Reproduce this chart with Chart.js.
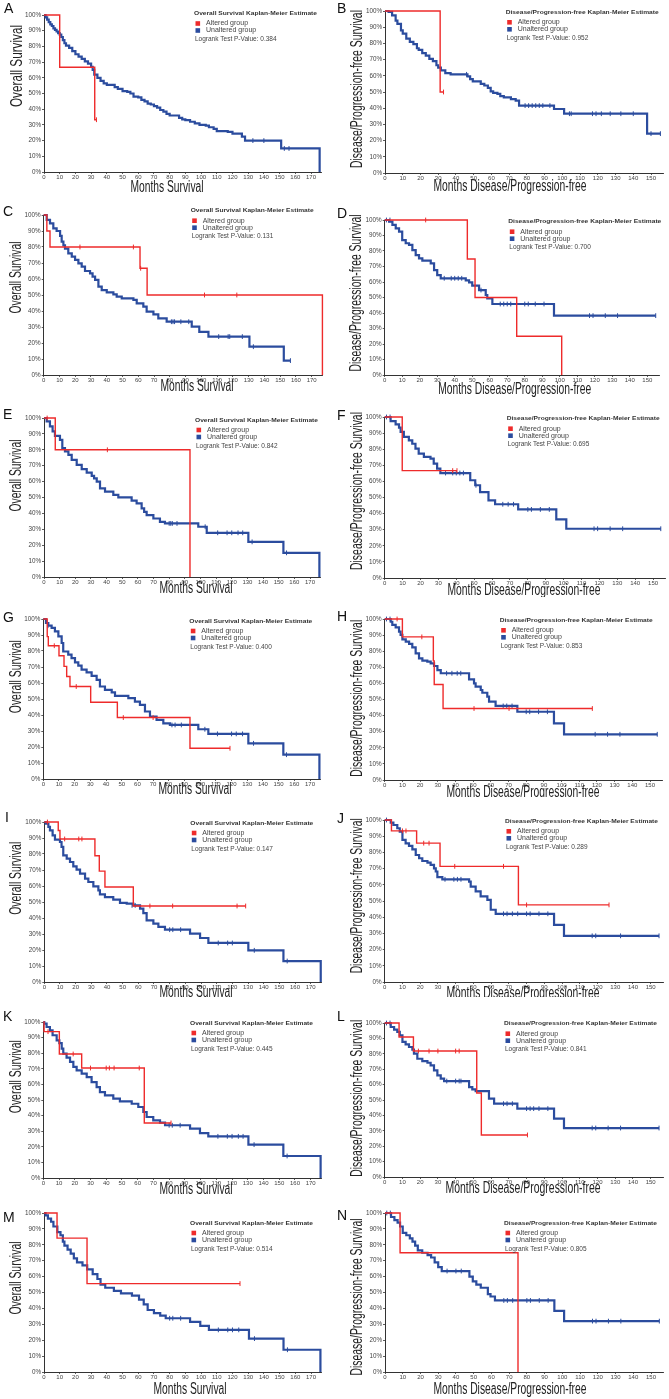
<!DOCTYPE html>
<html>
<head>
<meta charset="utf-8">
<script src="https://cdn.jsdelivr.net/npm/chart.js@4.4.1/dist/chart.umd.min.js"></script>
<style>
  html, body { margin: 0; padding: 0; background: #fff; }
  #page { position: relative; width: 669px; height: 1399px; overflow: hidden; }
  #page canvas { position: absolute; }
</style>
</head>
<body>
<div id="page"></div>
<script>
// ---- data ----
const osTicks = [0, 10, 20, 30, 40, 50, 60, 70, 80, 90, 100, 110, 120, 130, 140, 150, 160, 170];
const dfsTicks = [0, 10, 20, 30, 40, 50, 60, 70, 80, 90, 100, 110, 120, 130, 140, 150];
const yTicks = [0, 10, 20, 30, 40, 50, 60, 70, 80, 90, 100];
const panelIds = ["A", "B", "C", "D", "E", "F", "G", "H", "I", "J", "K", "L", "M", "N"];
const pValues = ["0.384", "0.952", "0.131", "0.700", "0.842", "0.695", "0.400", "0.853", "0.147", "0.289", "0.445", "0.841", "0.514", "0.805"];

// A - overall survival
const aRed = [[0,100],[10,66.7],[32.3,33.3],[33.4,33.3]];
const aRedCens = [[33.4,33.3]];
const aBlue = [[0,100],[1,98.5],[2,97],[3,95.5],[4,94],[5,93],[6,91.5],[7,90.5],[8,89.5],[9,88.5],[10,87.5],[11,86],[12,84],[13,82],[14,80.5],[16,79],[18,77],[20,75],[22,73.5],[24,72],[26,70.5],[28,69],[30,67],[31,65],[32,62],[34,60],[36,58],[38,56.5],[40,55.5],[45,54],[47,53],[50,51.5],[53,51],[55,50],[57,48],[60,47.5],[62,46],[64,45],[66,43.5],[68,43],[70,42],[72,41],[74,39.5],[76,38.5],[78,37],[80,36],[86,34.5],[88,33.5],[90,33],[93,32],[96,31],[99,30],[103,29.5],[105,28.5],[108,27.5],[110,26],[117,25.5],[120,24.5],[126,22.5],[128,20],[151,15],[175.5,0]];
const aBlueCens = [[133,20],[140,20],[153,15],[156,15]];

// B - disease/progression-free
const bRed = [[0,100],[31.1,50],[33,50]];
const bRedCens = [[33,50]];
const bBlue = [[0,100],[2,99.5],[4,97.3],[6,94],[7,92],[9,88],[10,86],[12,83],[14,81],[16,79.5],[18,77],[19,76],[21,74],[23,72.5],[25,70.5],[27,69],[29,66.5],[30,65],[31.5,63.4],[34,61.7],[37,60.9],[46.5,59.7],[48,58],[49.5,56.6],[54,55],[56,54],[58,52.5],[59.6,50.4],[61,49.5],[63.4,48.8],[65,47.5],[67,46.7],[71,45.6],[73.7,44.7],[75.6,41.6],[95.3,39.5],[101,36.6],[147.8,24.3],[155.3,24.3]];
const bBlueCens = [[46,60.9],[79,41.6],[81,41.6],[83,41.6],[85,41.6],[87,41.6],[89,41.6],[93,41.6],[104,36.6],[105,36.6],[117,36.6],[119,36.6],[122,36.6],[127,36.6],[133,36.6],[140,36.6],[150,24.3],[155.3,24.3]];

// C
const cRed = [[0,100],[2,90],[4,80],[61.1,66.7],[65.6,50],[176.8,0]];
const cRedCens = [[23,80],[56.9,80],[61.5,66.7],[102,50],[122.5,50]];
const cBlue = [[0,100],[1.9,96.9],[4,94.8],[6.1,91.7],[8.2,90],[10.4,87],[11.4,83.3],[12.5,81],[13.5,79],[15.6,76],[17.8,74],[19.9,71.9],[22,69.8],[24.1,67.7],[26.2,65],[29.4,63.5],[31,61.5],[32.6,59.4],[34.7,55.2],[36.8,53.1],[40,51.7],[44.2,50.4],[46.3,49],[49.5,47.9],[56.9,46.9],[59,44.8],[63.2,42.7],[65.3,39.6],[69.6,37.9],[72.7,35.4],[78,33.3],[93.9,30.2],[98.7,27],[104.5,24],[130.5,17.7],[152.3,9],[156.5,9]];
const cBlueCens = [[81,33.3],[82,33.3],[83,33.3],[87,33.3],[92,33.3],[111,24],[117,24],[118,24],[126,24],[133,17.7],[156.5,9]];

// D
const dRed = [[0,100],[47.2,74.8],[51.6,50],[75.4,25],[101.1,0]];
const dRedCens = [[23.4,100]];
const dBlue = [[0,100],[2.5,99],[4.4,96.8],[6.3,94.6],[8.2,92.5],[10,87],[12,85],[13.9,84],[15.8,80.6],[17.7,77.4],[19.6,75.3],[21.5,73.8],[26.3,72],[28.2,67.7],[30,64.5],[32,62.4],[46.3,61],[48.2,59.8],[50,57.6],[53.9,54.8],[57.7,51.6],[58.6,49.5],[61.5,45.8],[96.7,38.3],[154.8,38.3]];
const dBlueCens = [[1,100],[3,100],[34,62.4],[38,62.4],[40,62.4],[42,62.4],[44,62.4],[55,54.8],[66,45.8],[68,45.8],[70,45.8],[72,45.8],[80,45.8],[82,45.8],[86,45.8],[91,45.8],[117,38.3],[119,38.3],[126,38.3],[133,38.3],[154.8,38.3]];

// E
const eRed = [[0,100],[7.2,80],[93.3,0]];
const eRedCens = [[2,100],[40.5,80]];
const eBlue = [[0,100],[1.7,97.9],[3.8,94.7],[5.5,91.6],[7,88.8],[10.2,86.3],[11.7,81],[13.4,79],[15.6,76.8],[17.7,73.7],[20.9,70.5],[24.1,67.8],[27.3,65.7],[30.5,63.6],[32,62],[33.7,60],[35.8,55.8],[39,53.7],[44.3,51.6],[47.5,50.1],[56,48],[59.2,46.3],[62.4,43.2],[64,41],[65.6,38.9],[69.9,36.8],[74.1,34.7],[77.3,33.7],[98.6,31.6],[104,27.8],[130.6,22.1],[153,15.2],[176,0]];
const eBlueCens = [[80,33.7],[81,33.7],[82,33.7],[85,33.7],[103,31.6],[111,27.8],[117,27.8],[120,27.8],[124,27.8],[127,27.8],[133,22.1],[155,15.2]];

// F
const fRed = [[0,100],[9.8,66.7],[40.4,66.7]];
const fRedCens = [[38,66.7],[40.4,66.7]];
const fBlue = [[0,100],[3.3,97.5],[6.1,95.4],[8,93.4],[8.9,90.7],[10.7,87.6],[13.5,85.5],[15.4,83.4],[17.2,80.3],[19,77.2],[21.9,75.2],[25.6,74.1],[27.4,71],[29.3,67.9],[31.1,65.2],[47.8,60.7],[50.6,57.6],[53.3,53.4],[58,48.2],[61.7,45.8],[74.6,42.6],[95.9,36.4],[101.5,30.6],[154.3,30.6]];
const fBlueCens = [[1,100],[3,100],[34,65.2],[38,65.2],[40,65.2],[42,65.2],[44,65.2],[51,57.6],[66,45.8],[69,45.8],[72,45.8],[80,42.6],[82,42.6],[87,42.6],[92,42.6],[117,30.6],[119,30.6],[126,30.6],[133,30.6],[154.3,30.6]];

// G
const gRed = [[0,100],[2.5,89],[3.2,83.3],[10,77],[13.2,70.4],[14.9,64.1],[17,57.8],[30.2,48],[47.2,38.4],[93.5,19.2],[119,19.2]];
const gRedCens = [[7,83.3],[21,57.8],[51,38.4],[70,38.4],[119,19.2]];
const gBlue = [[0,100],[1.7,97.5],[3.2,95.8],[5.3,94.4],[7.4,92.3],[9.6,89.1],[11.7,85],[12.7,79.7],[15.9,77.7],[18,75.6],[20.2,72.9],[22.3,70.8],[24.4,68.3],[27.6,66.6],[30.8,64.5],[34,62],[36.1,57.8],[39.3,55.7],[43.6,54.1],[45.7,52],[54.2,50.5],[58.4,48.4],[61.6,46.3],[64.8,42.2],[68,39],[72.2,36.9],[76.5,34.8],[80.7,33.8],[98.8,31.1],[105.2,28.2],[130.7,22.3],[153,15.2],[176,0]];
const gBlueCens = [[3,95.8],[82,33.8],[84,33.8],[88,33.8],[103,31.1],[111,28.2],[120,28.2],[123,28.2],[127,28.2],[134,22.3],[155,15.2]];

// H
const hRed = [[0,100],[10,88.9],[27.5,74],[28,59.3],[33,44.4],[117.4,44.4]];
const hRedCens = [[7,100],[21,88.9],[50.5,44.4],[70.3,44.4],[117.4,44.4]];
const hBlue = [[0,100],[3.4,98.3],[4.3,96.3],[6.2,94.8],[8.1,92.1],[9,90.1],[10,87.4],[11.9,85.9],[13.8,84.5],[15.6,82.4],[17.5,78.7],[19.4,75.6],[21.3,74.1],[24.1,73.5],[26,72.5],[27.9,70.8],[29.8,68.3],[31.7,66.3],[47.7,62.5],[50.5,60],[51.4,58],[54.3,55.9],[55.2,54.2],[58,51.8],[59,48.7],[62.7,46],[75,42.4],[95.7,35.2],[101.4,28.4],[154.1,28.4]];
const hBlueCens = [[1,100],[3,100],[35,66.3],[38,66.3],[41,66.3],[43,66.3],[67,46],[69,46],[72,46],[80,42.4],[82,42.4],[87,42.4],[92,42.4],[119,28.4],[126,28.4],[133,28.4],[154.1,28.4]];

// I
const iRed = [[0,100],[8.9,94.7],[10,89.4],[32.3,78.9],[35.1,69.3],[38.7,59.4],[56.8,47.5],[128.5,47.5]];
const iRedCens = [[2,100],[13,89.4],[22,89.4],[24,89.4],[67.4,47.5],[81.9,47.5],[123,47.5],[128.5,47.5]];
const iBlue = [[0,100],[0.9,98.9],[2.6,96.9],[3.6,94.8],[5.3,91.7],[6.8,89],[10,87.5],[11,84.4],[12.1,79.2],[14.3,77.1],[16.4,75],[18.5,72.3],[20.6,70.2],[22.8,67.7],[26,64.6],[28.1,62.5],[31.3,59.8],[34.5,57.3],[35.5,54.8],[38.7,53.1],[44,51.5],[48.3,49.4],[52.6,49],[56.8,47.9],[61.1,45.8],[63.2,43.1],[65.3,38.5],[69.6,36.5],[72.8,34.4],[77,32.7],[93,30.2],[99.4,27.5],[104.7,24.4],[130.2,19.8],[152.6,13.1],[176.4,0]];
const iBlueCens = [[56,47.9],[58,47.9],[80,32.7],[82,32.7],[87,32.7],[111,24.4],[117,24.4],[120,24.4],[134,19.8],[155,13.1]];

// J
const jRed = [[0,100],[3.8,93.3],[18,85.7],[31.2,71.4],[75.4,47.6],[126.5,47.6]];
const jRedCens = [[10,93.3],[12,93.3],[22,85.7],[25,85.7],[39.5,71.4],[67,71.4],[80,47.6],[126.5,47.6]];
const jBlue = [[0,100],[3.4,98.4],[4.9,96.9],[7.1,94.9],[8.5,92.8],[10,87.7],[11.8,85.6],[13.7,84],[15.6,81.9],[17.5,78.4],[19.4,76.4],[21.2,74.7],[24.1,73.7],[25.9,72.3],[27.8,70.2],[28.8,68.2],[29.7,64.7],[32.5,63.4],[47.6,62],[48.5,58.9],[51.3,55.9],[54.1,52.8],[57.9,50.7],[59.8,44.6],[62.6,42.1],[95.5,35.3],[101.1,28.5],[154.7,28.5]];
const jBlueCens = [[1,100],[34,63.4],[39,63.4],[41,63.4],[43,63.4],[67,42.1],[69,42.1],[72,42.1],[75,42.1],[80,42.1],[82,42.1],[87,42.1],[92,42.1],[117,28.5],[119,28.5],[133,28.5],[154.7,28.5]];

// K
const kRed = [[0,100],[0.5,93.8],[10.2,79.5],[24.4,70.5],[64.2,35.3],[81.2,35.3]];
const kRedCens = [[3,93.8],[19,79.5],[30,70.5],[40,70.5],[42,70.5],[45,70.5],[61,70.5],[81.2,35.3]];
const kBlue = [[0,100],[0.6,98.9],[2.1,96.8],[4.2,94.7],[5.9,91.5],[8.5,88.2],[10.2,86.5],[11.7,82.9],[12.7,79.7],[14.8,77.1],[17,74.4],[19.1,71.2],[21.2,69],[24.4,66.9],[27.6,64.7],[30.7,61.5],[33.9,58.3],[36,55.1],[39.2,53],[44.5,50.9],[48.7,49.1],[56.2,47.6],[60.4,45.5],[63.6,42.3],[65.7,39.1],[69.9,37],[74.2,35.5],[77.4,33.8],[93.3,31.6],[99.6,28.8],[104.9,26.7],[130.4,21.4],[152.6,14.1],[176.3,0]];
const kBlueCens = [[80,33.8],[82,33.8],[87,33.8],[111,26.7],[117,26.7],[120,26.7],[124,26.7],[127,26.7],[134,21.4],[155,14.1]];

// L
const lRed = [[0,100],[8.1,90.9],[16.2,81.8],[51.9,54.5],[54.5,27.3],[80.5,27.3]];
const lRedCens = [[19,81.8],[25,81.8],[30,81.8],[40,81.8],[42,81.8],[80.5,27.3]];
const lBlue = [[0,100],[3.4,97.4],[5.3,95.7],[7.1,94.2],[8.5,92],[10,87.7],[11.8,86.1],[13.7,84.4],[15.6,82.7],[16.5,80.1],[18.4,76.8],[21.2,75.3],[24.1,74.2],[25.9,72.5],[27.8,69.3],[29.7,66],[31.6,63.9],[33.5,62.3],[47.6,58.4],[49.4,56.9],[51.3,55.8],[58.8,50.9],[61.7,47.6],[74.8,44.4],[95.5,37.9],[101.1,31.8],[154.7,31.8]];
const lBlueCens = [[1,100],[3,100],[35,62.3],[40,62.3],[42,62.3],[43,62.3],[67,47.6],[69,47.6],[72,47.6],[80,44.4],[82,44.4],[84,44.4],[87,44.4],[92,44.4],[117,31.8],[119,31.8],[126,31.8],[133,31.8],[154.7,31.8]];

// M
const mRed = [[0,100],[8.3,84.2],[27.4,55.6],[124.8,55.6]];
const mRedCens = [[124.8,55.6]];
const mBlue = [[0,100],[1,98.5],[2.5,96.5],[4.5,94.5],[6,91.5],[8.5,88],[10.5,86],[12,82],[13,79.5],[15,77],[17,74.5],[19,71.5],[21,69],[24.5,67],[27.5,64.5],[31,61.5],[34,58.5],[36,55],[39,53],[44.5,51],[49,49.5],[56,48],[60.5,45.5],[63.5,42.5],[66,39],[70,37],[74,35.5],[77.5,33.8],[93,31.5],[99.5,29],[105,26.5],[130.5,21],[152.5,14],[176,0]];
const mBlueCens = [[80,33.8],[82,33.8],[87,33.8],[111,26.5],[117,26.5],[120,26.5],[124,26.5],[134,21],[155,14]];

// N
const nRed = [[0,100],[8.5,75],[75,0]];
const nRedCens = [];
const nBlue = [[0,100],[3.4,97.5],[5.3,95.5],[7.1,94],[8.5,91.5],[10,87.5],[12,86],[14,84],[15.5,82],[17,79.5],[18.5,76.5],[21,75],[24,73.5],[26,72],[28,69],[30,66],[32,63.5],[47.6,60],[49.5,57],[51.5,55],[54,53],[58,49],[59.5,47.5],[62,45],[95.5,38.5],[101,32],[154.7,32]];
const nBlueCens = [[1,100],[3,100],[35,63.5],[40,63.5],[43,63.5],[67,45],[69,45],[72,45],[80,45],[82,45],[87,45],[92,45],[117,32],[119,32],[126,32],[133,32],[154.7,32]];

// ---- layout (absolute page pixels) ----
const rowTop = [0, 195, 390, 590, 790, 990, 1192];
const CANVAS_H = 207;
const RED = "#ee2b2b";
const BLUE = "#2b4c9e";
const FONT = '"Liberation Sans", Arial, sans-serif';

const panels = [
  { kind: "os",  red: aRed, redCens: aRedCens, blue: aBlue, blueCens: aBlueCens, L: 44,    t: 311,   T: 15,   B: 172,  lx: 194,   ty: 13.5,   tag: [4, 9],      yt: [17, 66, 82],     xt: [167, 188, 73] },
  { kind: "dfs", red: bRed, redCens: bRedCens, blue: bBlue, blueCens: bBlueCens, L: 385,   t: 651,   T: 11,   B: 173,  lx: 505.7, ty: 12.3,   tag: [337, 9],    yt: [357, 89, 158],   xt: [510, 187, 153] },
  { kind: "os",  red: cRed, redCens: cRedCens, blue: cBlue, blueCens: cBlueCens, L: 43.7,  t: 311.7, T: 215,  B: 375,  lx: 190.7, ty: 210.7,  tag: [3, 212],    yt: [16, 277.5, 72],  xt: [197, 387, 73] },
  { kind: "dfs", red: dRed, redCens: dRedCens, blue: dBlue, blueCens: dBlueCens, L: 384.7, t: 647.3, T: 220,  B: 375,  lx: 508.3, ty: 221.7,  tag: [337, 214],  yt: [356.7, 293, 157], xt: [514.7, 390, 153] },
  { kind: "os",  red: eRed, redCens: eRedCens, blue: eBlue, blueCens: eBlueCens, L: 44,    t: 310,   T: 418,  B: 577,  lx: 195,   ty: 420,    tag: [3, 415],    yt: [16, 475.5, 72],  xt: [196, 589, 73] },
  { kind: "dfs", red: fRed, redCens: fRedCens, blue: fBlue, blueCens: fBlueCens, L: 384.7, t: 654.7, T: 417,  B: 578,  lx: 506.7, ty: 418.7,  tag: [337, 416],  yt: [357, 491, 158],  xt: [524, 591, 153] },
  { kind: "os",  red: gRed, redCens: gRedCens, blue: gBlue, blueCens: gBlueCens, L: 43.3,  t: 310,   T: 619,  B: 779,  lx: 189.3, ty: 621,    tag: [3, 618],    yt: [16, 676.7, 73],  xt: [195, 790, 73] },
  { kind: "dfs", red: hRed, redCens: hRedCens, blue: hBlue, blueCens: hBlueCens, L: 384.7, t: 650,   T: 619,  B: 780,  lx: 499.7, ty: 620.3,  tag: [337, 617],  yt: [357, 698.3, 157], xt: [523, 793, 153] },
  { kind: "os",  red: iRed, redCens: iRedCens, blue: iBlue, blueCens: iBlueCens, L: 44.3,  t: 310.7, T: 822,  B: 982,  lx: 190.3, ty: 823,    tag: [5, 818],    yt: [16, 878.3, 73],  xt: [196, 993, 73] },
  { kind: "dfs", red: jRed, redCens: jRedCens, blue: jBlue, blueCens: jBlueCens, L: 384.7, t: 650.7, T: 820,  B: 982,  lx: 505,   ty: 821.3,  tag: [337, 819],  yt: [357, 895.8, 155], xt: [523, 994, 153] },
  { kind: "os",  red: kRed, redCens: kRedCens, blue: kBlue, blueCens: kBlueCens, L: 43.3,  t: 310.7, T: 1022, B: 1178, lx: 190,   ty: 1023,   tag: [3, 1017],   yt: [16, 1076.7, 73], xt: [196, 1190, 73] },
  { kind: "dfs", red: lRed, redCens: lRedCens, blue: lBlue, blueCens: lBlueCens, L: 384.7, t: 650.7, T: 1023, B: 1177, lx: 504,   ty: 1023.7, tag: [337, 1017], yt: [357, 1098.3, 157], xt: [523, 1189, 155] },
  { kind: "os",  red: mRed, redCens: mRedCens, blue: mBlue, blueCens: mBlueCens, L: 44,    t: 311,   T: 1213, B: 1372, lx: 190,   ty: 1223,   tag: [3, 1218],   yt: [16, 1278, 73],   xt: [190, 1390, 73] },
  { kind: "dfs", red: nRed, redCens: nRedCens, blue: nBlue, blueCens: nBlueCens, L: 385,   t: 651,   T: 1213, B: 1372, lx: 504,   ty: 1223,   tag: [337, 1216], yt: [357, 1297, 157], xt: [510, 1390, 153] }
];

const toXY = arr => arr.map(p => ({ x: p[0], y: p[1] }));

// draws text squeezed/stretched to a given width
function fitText(ctx, text, x, y, w, font, rotate) {
  ctx.save();
  ctx.translate(x, y);
  if (rotate) ctx.rotate(-Math.PI / 2);
  ctx.font = font;
  const m = ctx.measureText(text).width;
  ctx.scale(w / m, 1);
  ctx.textAlign = "center";
  ctx.textBaseline = "middle";
  ctx.fillText(text, 0, 0);
  ctx.restore();
}

const kmText = {
  id: "kmText",
  afterDraw(chart, args, o) {
    const ctx = chart.ctx;
    const ox = o.ox, oy = o.oy;
    ctx.save();
    ctx.fillStyle = "#111";
    ctx.font = "14px " + FONT;
    ctx.textBaseline = "middle";
    ctx.textAlign = "left";
    ctx.fillText(o.tag, o.tagX - ox, o.tagY - oy);

    ctx.fillStyle = "#222";
    fitText(ctx, o.yTitle, o.ytX - ox, o.ytY - oy, o.ytW, "17px " + FONT, true);
    fitText(ctx, o.xTitle, o.xtX - ox, o.xtY - oy, o.xtW, "16px " + FONT, false);

    // legend block
    const lx = o.lx - ox, ty = o.ty - oy;
    ctx.fillStyle = "#333";
    ctx.save();
    ctx.translate(lx, ty);
    ctx.font = "bold 6px " + FONT;
    const mw = ctx.measureText(o.legTitle).width;
    ctx.scale(o.legW / mw, 1);
    ctx.textAlign = "left";
    ctx.textBaseline = "middle";
    ctx.fillText(o.legTitle, 0, 0);
    ctx.restore();

    ctx.fillStyle = RED;
    ctx.fillRect(lx + 1.5, ty + 10 - 2.3, 4.6, 4.6);
    ctx.fillStyle = BLUE;
    ctx.fillRect(lx + 1.5, ty + 17 - 2.3, 4.6, 4.6);
    ctx.fillStyle = "#444";
    ctx.font = "7px " + FONT;
    ctx.textAlign = "left";
    ctx.textBaseline = "middle";
    ctx.fillText("Altered group", lx + 12, ty + 10);
    ctx.fillText("Unaltered group", lx + 12, ty + 17);
    ctx.font = "6.5px " + FONT;
    ctx.fillText("Logrank Test P-Value: " + o.p, lx + 1, ty + 26);
    ctx.restore();
  }
};

const page = document.getElementById("page");

panels.forEach((pn, i) => {
  const os = pn.kind === "os";
  const col = pn.L < 334 ? 0 : 1;
  const row = Math.floor(i / 2);
  const cx = col === 0 ? 0 : 334;
  const cw = col === 0 ? 334 : 335;
  const cy = rowTop[row];
  const xmax = os ? 177 : 157;
  const ppu = (pn.t - pn.L) / (os ? 170 : 150);
  const R = pn.L + xmax * ppu;
  const xt = os ? osTicks : dfsTicks;

  const cv = document.createElement("canvas");
  cv.width = cw;
  cv.height = CANVAS_H;
  cv.style.left = cx + "px";
  cv.style.top = cy + "px";
  cv.style.width = cw + "px";
  cv.style.height = CANVAS_H + "px";
  page.appendChild(cv);

  const censor = (data, color) => ({
    data: toXY(data), showLine: false, clip: false,
    pointStyle: "line", pointRotation: 90, pointRadius: 2.4, pointHoverRadius: 0,
    pointBorderColor: color, pointBorderWidth: 1, borderColor: color
  });

  new Chart(cv, {
    type: "line",
    data: {
      datasets: [
        { data: toXY(pn.red), borderColor: RED, borderWidth: 1.4, stepped: true, pointRadius: 0, clip: false, fill: false },
        censor(pn.redCens, RED),
        { data: toXY(pn.blue), borderColor: BLUE, borderWidth: 2.2, stepped: true, pointRadius: 0, clip: false, fill: false },
        censor(pn.blueCens, BLUE)
      ]
    },
    options: {
      responsive: false,
      maintainAspectRatio: false,
      animation: false,
      events: [],
      layout: { padding: { top: pn.T - cy, right: cx + cw - R, bottom: 0, left: 0 } },
      plugins: {
        legend: { display: false },
        tooltip: { enabled: false },
        kmText: {
          ox: cx, oy: cy,
          tag: panelIds[i], tagX: pn.tag[0], tagY: pn.tag[1],
          yTitle: os ? "Overall Survival" : "Disease/Progression-free Survival",
          ytX: pn.yt[0], ytY: pn.yt[1], ytW: pn.yt[2],
          xTitle: os ? "Months Survival" : "Months Disease/Progression-free",
          xtX: pn.xt[0], xtY: pn.xt[1], xtW: pn.xt[2],
          legTitle: os ? "Overall Survival Kaplan-Meier Estimate" : "Disease/Progression-free Kaplan-Meier Estimate",
          legW: os ? 123 : 153,
          lx: pn.lx, ty: pn.ty, p: pValues[i]
        }
      },
      scales: {
        x: {
          type: "linear", min: 0, max: xmax,
          afterFit: s => { s.height = cy + CANVAS_H - pn.B; },
          afterBuildTicks: s => { s.ticks = xt.map(v => ({ value: v })); },
          grid: { drawOnChartArea: false, tickLength: 2, color: "#333", lineWidth: 0.8 },
          border: { color: "#333", width: 1 },
          ticks: { font: { size: 6, family: FONT }, color: "#444", padding: 0, maxRotation: 0, autoSkip: false }
        },
        y: {
          min: 0, max: 100,
          afterFit: s => { s.width = pn.L - cx; },
          afterBuildTicks: s => { s.ticks = yTicks.map(v => ({ value: v })); },
          grid: { drawOnChartArea: false, tickLength: 2, color: "#333", lineWidth: 0.8 },
          border: { color: "#333", width: 1 },
          ticks: { font: { size: 6.3, family: FONT }, color: "#444", padding: 1, autoSkip: false, callback: v => v + "%" }
        }
      }
    },
    plugins: [kmText]
  });
});
</script>
</body>
</html>
